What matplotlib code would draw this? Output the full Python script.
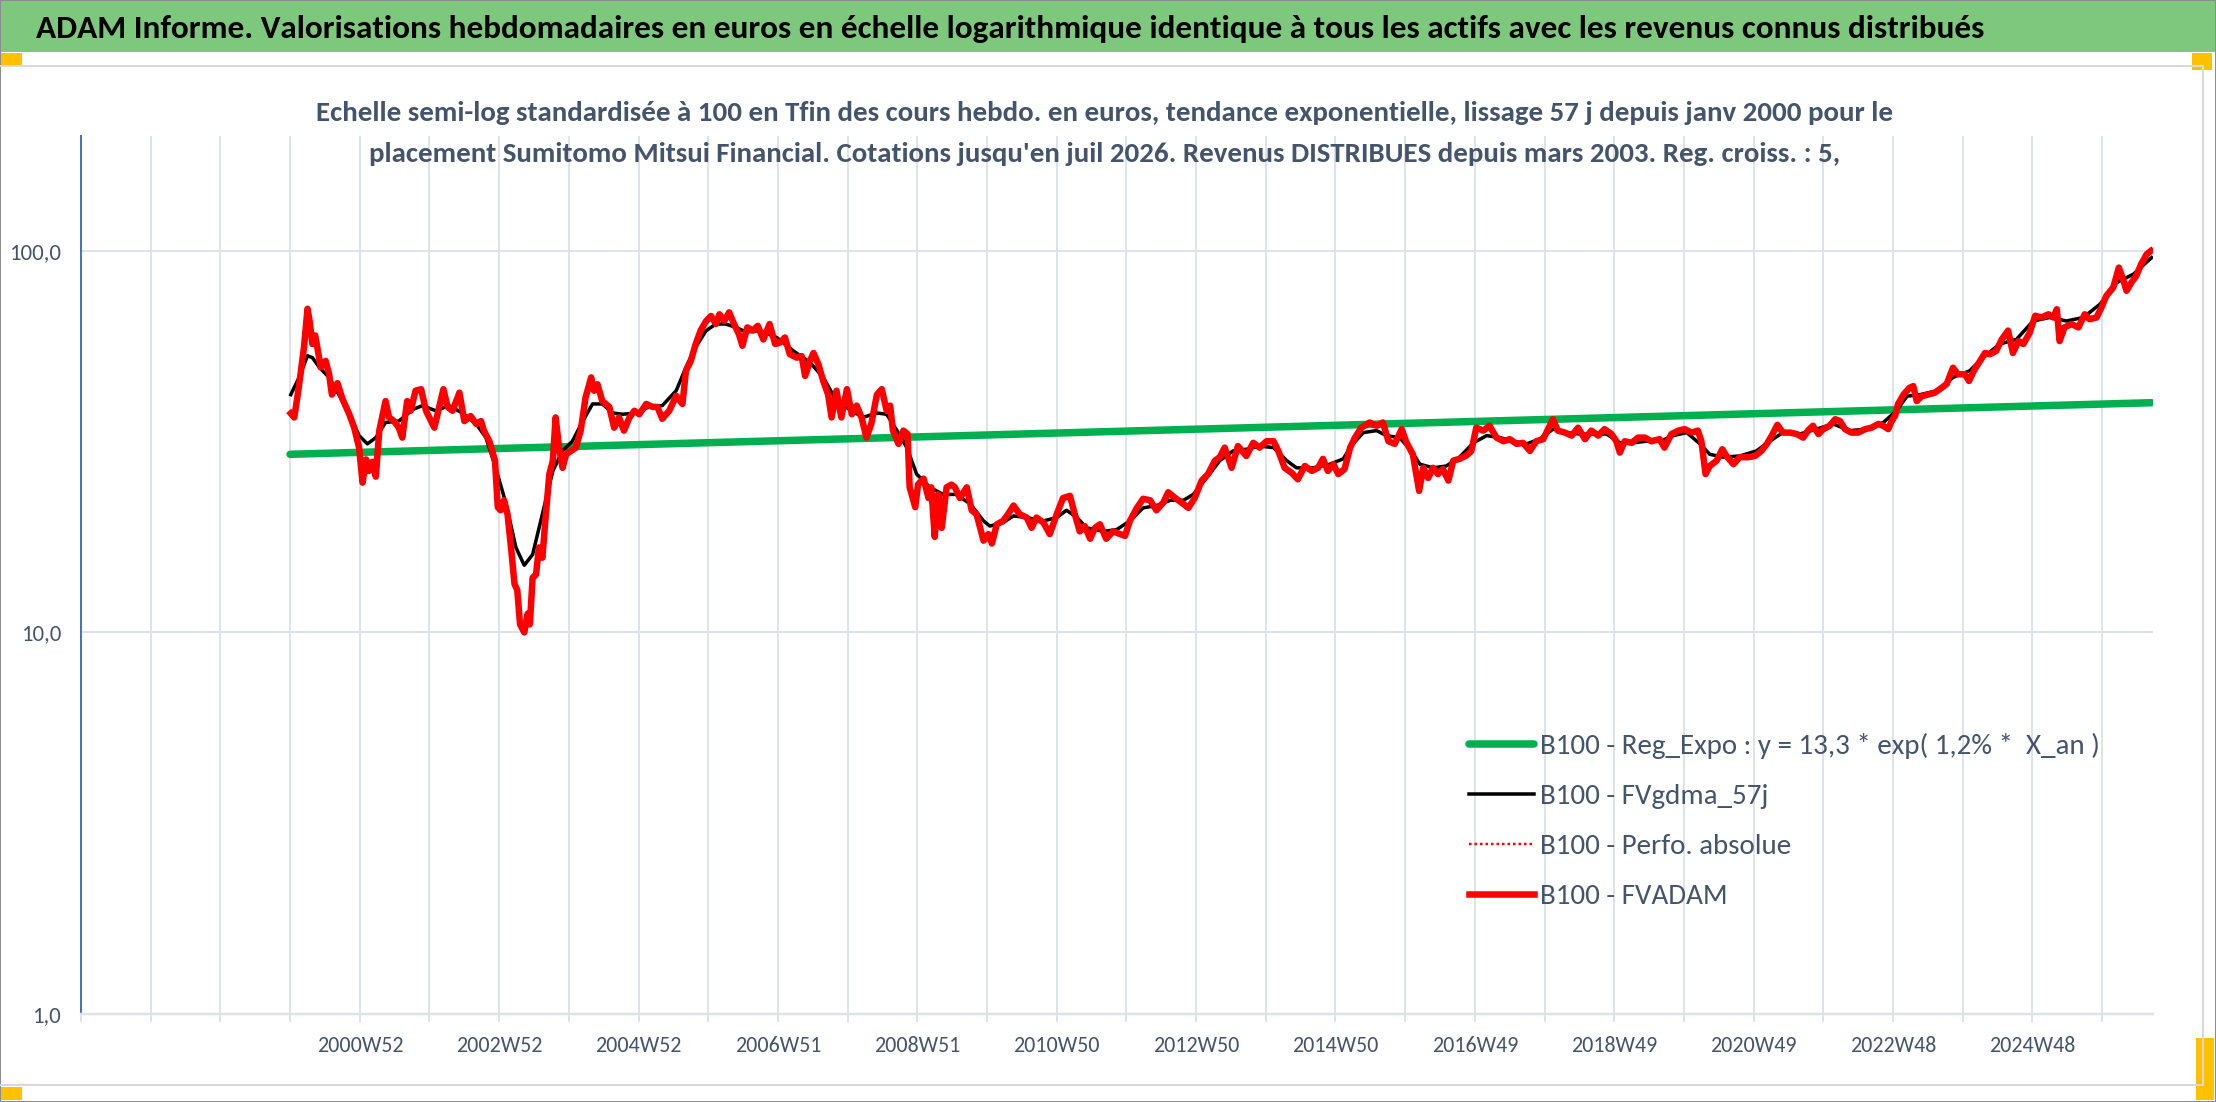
import matplotlib
matplotlib.use('Agg')
import matplotlib.pyplot as plt
from matplotlib import font_manager
from matplotlib.patches import Rectangle
from matplotlib.lines import Line2D
from matplotlib.ticker import FixedLocator, FixedFormatter, NullLocator

title = ("ADAM Informe. Valorisations hebdomadaires en euros en échelle logarithmique "
         "identique à tous les actifs avec les revenus connus distribués")
subtitle_1 = ("Echelle semi-log standardisée à 100 en Tfin des cours hebdo. en euros, tendance "
              "exponentielle, lissage 57 j depuis janv 2000 pour le")
subtitle_2 = ("placement Sumitomo Mitsui Financial. Cotations jusqu'en juil 2026. Revenus "
              "DISTRIBUES depuis mars 2003. Reg. croiss. : 5,")
legend_labels = ["B100 - Reg_Expo : y = 13,3 * exp( 1,2% *  X_an )",
                 "B100 - FVgdma_57j",
                 "B100 - Perfo. absolue",
                 "B100 - FVADAM"]

tick_years = [2001, 2003, 2005, 2007, 2009, 2011, 2013, 2015, 2017, 2019, 2021, 2023, 2025]
tick_labels = ["2000W52", "2002W52", "2004W52", "2006W51", "2008W51", "2010W50", "2012W50",
               "2014W50", "2016W49", "2018W49", "2020W49", "2022W48", "2024W48"]
grid_years = list(range(1997, 2027))
y_ticks = [1, 10, 100]
y_labels = ["1,0", "10,0", "100,0"]

reg_years = [2000.0, 2026.71]
reg_vals = [29.3, 40.0]

red_years = [
    2000.01, 2000.06, 2000.11, 2000.15, 2000.20, 2000.25, 2000.28, 2000.32, 2000.36, 2000.39,
    2000.44, 2000.51, 2000.56, 2000.60, 2000.68, 2000.75, 2000.85, 2000.92, 2000.99, 2001.04,
    2001.09, 2001.13, 2001.18, 2001.23, 2001.28, 2001.37, 2001.42, 2001.49, 2001.56, 2001.61,
    2001.68, 2001.73, 2001.80, 2001.88, 2001.95, 2002.07, 2002.14, 2002.20, 2002.26, 2002.33,
    2002.43, 2002.50, 2002.59, 2002.67, 2002.74, 2002.78, 2002.86, 2002.90, 2002.94, 2002.98,
    2003.02, 2003.07, 2003.12, 2003.17, 2003.22, 2003.26, 2003.30, 2003.36, 2003.41, 2003.44,
    2003.48, 2003.53, 2003.57, 2003.62, 2003.67, 2003.72, 2003.77, 2003.81, 2003.86, 2003.91,
    2003.96, 2004.03, 2004.10, 2004.17, 2004.24, 2004.32, 2004.36, 2004.41, 2004.48, 2004.58,
    2004.65, 2004.72, 2004.79, 2004.87, 2004.94, 2005.01, 2005.11, 2005.20, 2005.27, 2005.34,
    2005.44, 2005.54, 2005.63, 2005.68, 2005.75, 2005.82, 2005.89, 2005.97, 2006.04, 2006.11,
    2006.16, 2006.23, 2006.30, 2006.37, 2006.44, 2006.49, 2006.56, 2006.64, 2006.71, 2006.79,
    2006.88, 2006.96, 2007.03, 2007.10, 2007.17, 2007.27, 2007.34, 2007.39, 2007.46, 2007.51,
    2007.58, 2007.65, 2007.72, 2007.77, 2007.84, 2007.91, 2007.99, 2008.06, 2008.13, 2008.20,
    2008.27, 2008.34, 2008.42, 2008.49, 2008.56, 2008.61, 2008.65, 2008.73, 2008.80, 2008.86,
    2008.89, 2008.97, 2009.01, 2009.09, 2009.16, 2009.20, 2009.25, 2009.30, 2009.35, 2009.42,
    2009.49, 2009.54, 2009.61, 2009.71, 2009.78, 2009.85, 2009.95, 2010.02, 2010.07, 2010.14,
    2010.23, 2010.30, 2010.38, 2010.47, 2010.57, 2010.64, 2010.71, 2010.81, 2010.90, 2011.00,
    2011.09, 2011.19, 2011.26, 2011.33, 2011.40, 2011.48, 2011.55, 2011.62, 2011.71, 2011.81,
    2011.91, 2011.98, 2012.05, 2012.15, 2012.24, 2012.34, 2012.43, 2012.53, 2012.60, 2012.70,
    2012.79, 2012.89, 2012.98, 2013.08, 2013.17, 2013.27, 2013.34, 2013.41, 2013.51, 2013.60,
    2013.72, 2013.82, 2013.91, 2014.01, 2014.11, 2014.18, 2014.27, 2014.37, 2014.46, 2014.56,
    2014.66, 2014.75, 2014.82, 2014.89, 2014.97, 2015.04, 2015.13, 2015.21, 2015.28, 2015.37,
    2015.49, 2015.59, 2015.68, 2015.76, 2015.85, 2015.95, 2016.02, 2016.11, 2016.20, 2016.26,
    2016.33, 2016.40, 2016.47, 2016.54, 2016.62, 2016.69, 2016.78, 2016.88, 2016.95, 2017.02,
    2017.12, 2017.21, 2017.31, 2017.41, 2017.50, 2017.60, 2017.69, 2017.79, 2017.88, 2017.98,
    2018.05, 2018.12, 2018.19, 2018.29, 2018.39, 2018.48, 2018.58, 2018.67, 2018.77, 2018.86,
    2018.96, 2019.03, 2019.08, 2019.15, 2019.25, 2019.34, 2019.44, 2019.53, 2019.65, 2019.72,
    2019.82, 2019.92, 2020.01, 2020.11, 2020.20, 2020.25, 2020.31, 2020.37, 2020.47, 2020.55,
    2020.61, 2020.71, 2020.80, 2020.92, 2021.02, 2021.11, 2021.19, 2021.26, 2021.34, 2021.42,
    2021.52, 2021.62, 2021.71, 2021.78, 2021.85, 2021.93, 2022.00, 2022.09, 2022.17, 2022.24,
    2022.31, 2022.40, 2022.50, 2022.60, 2022.69, 2022.79, 2022.86, 2022.93, 2022.98, 2023.03,
    2023.07, 2023.15, 2023.24, 2023.29, 2023.34, 2023.41, 2023.50, 2023.60, 2023.70, 2023.77,
    2023.86, 2023.93, 2024.03, 2024.09, 2024.17, 2024.25, 2024.32, 2024.39, 2024.48, 2024.56,
    2024.65, 2024.72, 2024.80, 2024.87, 2024.96, 2025.04, 2025.13, 2025.23, 2025.30, 2025.35,
    2025.39, 2025.46, 2025.56, 2025.66, 2025.75, 2025.82, 2025.92, 2025.99, 2026.06, 2026.16,
    2026.24, 2026.30, 2026.35, 2026.42, 2026.49, 2026.56, 2026.64, 2026.70]
red_vals = [
    37.5, 36.6, 42.0, 47.5, 56.0, 70.5, 65.5, 57.0, 60.0, 56.0,
    49.5, 51.5, 47.5, 42.0, 45.0, 41.0, 37.3, 34.4, 30.5, 24.7,
    28.4, 26.5, 28.0, 25.6, 33.8, 40.4, 36.6, 35.8, 34.4, 32.4,
    40.4, 38.1, 43.0, 43.4, 38.1, 34.4, 39.0, 43.4, 39.0, 38.1,
    42.5, 35.8, 36.9, 35.2, 35.8, 33.8, 31.7, 29.9, 28.2, 21.3,
    20.9, 22.2, 20.4, 16.7, 13.4, 12.9, 10.5, 10.0, 11.2, 10.5,
    13.9, 14.2, 16.7, 15.7, 20.4, 26.0, 28.2, 36.6, 30.5, 27.0,
    29.3, 29.9, 30.5, 33.8, 41.3, 46.6, 43.0, 44.7, 40.4, 39.0,
    34.4, 36.6, 33.8, 36.6, 38.1, 37.3, 39.7, 39.0, 39.0, 36.3,
    38.1, 41.7, 39.7, 48.5, 51.5, 57.0, 61.8, 65.5, 67.5, 64.3,
    68.2, 65.5, 69.0, 64.3, 60.5, 56.4, 63.0, 61.8, 63.6, 58.6,
    64.3, 57.0, 57.5, 59.3, 53.6, 52.5, 53.0, 47.0, 51.5, 54.0,
    50.5, 45.6, 42.0, 36.6, 43.0, 36.6, 43.4, 37.3, 39.3, 36.6,
    32.4, 35.2, 42.0, 43.4, 38.1, 39.3, 33.8, 31.2, 33.8, 33.1,
    24.0, 21.3, 24.4, 25.3, 22.5, 24.0, 17.8, 23.0, 18.8, 24.0,
    24.4, 24.0, 22.5, 24.0, 20.9, 20.4, 17.4, 18.1, 17.1, 19.2,
    19.6, 20.4, 21.5, 20.4, 20.0, 18.8, 20.0, 19.4, 18.1, 20.4,
    22.5, 22.8, 20.4, 18.4, 19.0, 17.6, 18.8, 19.2, 17.6, 18.4,
    18.1, 17.9, 19.6, 21.2, 22.4, 22.2, 20.9, 21.9, 23.3, 22.5,
    21.9, 21.2, 22.5, 25.0, 26.0, 28.2, 28.8, 30.5, 27.0, 30.8,
    29.0, 31.4, 30.5, 31.7, 31.7, 29.9, 27.0, 26.2, 25.2, 27.3,
    26.5, 27.0, 28.5, 26.5, 27.6, 26.0, 26.8, 30.5, 32.4, 34.4,
    35.5, 34.8, 35.5, 31.7, 31.2, 34.1, 31.4, 29.3, 23.5, 27.0,
    25.4, 27.0, 26.0, 26.8, 25.0, 28.2, 28.5, 29.1, 29.9, 34.4,
    33.8, 34.8, 32.4, 31.7, 32.1, 31.2, 31.4, 29.9, 31.7, 32.1,
    34.1, 36.2, 33.8, 33.4, 32.8, 34.4, 32.1, 33.8, 32.8, 34.1,
    33.1, 31.7, 29.6, 31.7, 31.4, 32.4, 32.4, 31.7, 32.1, 30.5,
    33.1, 33.8, 34.1, 33.4, 33.8, 31.7, 26.0, 27.3, 28.2, 30.2,
    29.0, 27.6, 28.8, 28.8, 29.0, 29.9, 31.2, 32.8, 35.0, 33.4,
    33.4, 33.1, 32.4, 33.8, 34.8, 33.1, 34.1, 34.8, 36.2, 35.8,
    34.1, 33.4, 33.4, 34.1, 34.4, 35.2, 34.8, 34.1, 35.8, 37.0,
    39.6, 42.0, 43.8, 44.2, 40.4, 41.6, 42.0, 42.5, 43.8, 44.8,
    49.4, 47.5, 47.5, 45.6, 48.9, 51.5, 54.0, 53.6, 54.7, 58.6,
    61.8, 54.0, 58.0, 57.0, 61.0, 67.6, 66.9, 68.2, 66.9, 70.3,
    58.0, 63.0, 64.3, 63.0, 68.2, 66.2, 66.9, 71.0, 76.2, 80.2,
    90.4, 84.3, 78.6, 82.6, 86.0, 92.3, 98.0, 100.0]

black_years = [
    2000.01, 2000.13, 2000.25, 2000.32, 2000.42, 2000.56, 2000.70, 2000.85, 2000.99, 2001.11,
    2001.23, 2001.37, 2001.56, 2001.76, 2001.90, 2002.09, 2002.28, 2002.47, 2002.67, 2002.81,
    2002.95, 2003.10, 2003.24, 2003.36, 2003.48, 2003.62, 2003.77, 2003.91, 2004.05, 2004.20,
    2004.34, 2004.48, 2004.63, 2004.77, 2004.96, 2005.15, 2005.34, 2005.54, 2005.68, 2005.82,
    2005.97, 2006.11, 2006.25, 2006.40, 2006.54, 2006.74, 2006.98, 2007.22, 2007.46, 2007.65,
    2007.84, 2008.03, 2008.22, 2008.42, 2008.56, 2008.70, 2008.85, 2008.99, 2009.18, 2009.37,
    2009.56, 2009.76, 2009.95, 2010.04, 2010.23, 2010.38, 2010.57, 2010.81, 2011.00, 2011.14,
    2011.29, 2011.43, 2011.67, 2011.86, 2012.05, 2012.24, 2012.43, 2012.63, 2012.82, 2012.96,
    2013.15, 2013.34, 2013.53, 2013.72, 2013.91, 2014.11, 2014.30, 2014.44, 2014.68, 2014.92,
    2015.11, 2015.25, 2015.40, 2015.59, 2015.73, 2015.92, 2016.09, 2016.21, 2016.40, 2016.59,
    2016.78, 2016.98, 2017.17, 2017.36, 2017.55, 2017.74, 2017.93, 2018.12, 2018.32, 2018.51,
    2018.70, 2018.89, 2019.08, 2019.27, 2019.46, 2019.66, 2019.85, 2020.04, 2020.23, 2020.37,
    2020.56, 2020.80, 2021.04, 2021.23, 2021.42, 2021.66, 2021.90, 2022.14, 2022.38, 2022.62,
    2022.86, 2023.05, 2023.20, 2023.39, 2023.63, 2023.86, 2024.10, 2024.29, 2024.53, 2024.77,
    2025.01, 2025.25, 2025.49, 2025.73, 2025.97, 2026.21, 2026.45, 2026.71]
black_vals = [
    42.0, 46.6, 53.1, 52.5, 49.5, 46.6, 42.0, 37.3, 32.8, 31.2,
    32.4, 35.5, 35.8, 38.4, 39.3, 38.1, 39.3, 37.6, 35.2, 32.4,
    27.0, 21.7, 16.7, 15.0, 16.0, 20.4, 26.5, 29.9, 31.7, 35.8,
    39.7, 39.7, 37.6, 37.3, 37.6, 39.0, 39.3, 43.0, 49.5, 56.0,
    61.8, 64.3, 64.3, 63.0, 61.3, 61.8, 59.3, 54.7, 51.0, 46.6,
    40.4, 38.4, 36.6, 37.6, 37.3, 34.0, 30.5, 26.0, 24.0, 23.0,
    23.0, 21.7, 19.6, 19.0, 19.4, 20.2, 20.0, 19.6, 20.0, 20.9,
    20.0, 18.8, 18.4, 18.6, 19.6, 21.2, 21.5, 22.2, 22.2, 23.0,
    25.4, 28.2, 29.9, 30.2, 30.8, 30.5, 28.2, 27.0, 27.0, 27.6,
    28.5, 31.2, 33.4, 33.8, 32.8, 32.4, 29.9, 27.6, 27.0, 27.3,
    28.8, 31.4, 32.8, 32.4, 31.7, 31.2, 32.1, 34.1, 33.4, 33.1,
    33.1, 33.1, 31.4, 31.4, 31.7, 31.7, 32.8, 33.4, 31.2, 29.3,
    28.8, 29.0, 29.9, 31.7, 33.4, 33.1, 34.1, 35.2, 33.8, 34.1,
    35.5, 38.1, 41.6, 42.0, 43.0, 46.6, 48.5, 52.5, 57.0, 58.6,
    65.5, 66.9, 65.5, 66.9, 72.5, 82.6, 86.9, 96.0]

# ---- style ----
GREEN = '#00B050'
RED = '#FF0000'
SLATE = '#44546A'
GRID = '#DEE2E9'
BAND = '#7EC87E'
ORANGE = '#FFC000'


def pick_font(names):
    for n in names:
        try:
            font_manager.findfont(font_manager.FontProperties(family=n), fallback_to_default=False)
            return n
        except Exception:
            pass
    return 'DejaVu Sans'


FONT = pick_font(['Carlito', 'Lato', 'Open Sans'])
plt.rcParams['font.family'] = [FONT, 'DejaVu Sans']

W, H = 2216, 1102
fig = plt.figure(figsize=(W / 100, H / 100), dpi=100)
fig.patch.set_facecolor('white')
renderer = fig.canvas.get_renderer()


def fx(px):
    return px / W


def fy(py):
    return 1 - py / H


def size_for(s, target_px, weight='normal'):
    t = fig.text(0, 0, s, fontsize=20, fontweight=weight)
    w = t.get_window_extent(renderer=renderer).width
    t.remove()
    return 20 * target_px / w


PX = 0.72  # points per pixel at dpi 100

# frame decorations
fig.add_artist(Rectangle((0, fy(52)), 1, 52 / H, transform=fig.transFigure,
                         facecolor=BAND, edgecolor='none', zorder=0))
for seg in [((0, 2203), (66, 66)), ((2203, 2203), (66, 1085)), ((0, 2203), (1085, 1085))]:
    fig.add_artist(Line2D([fx(v) for v in seg[0]], [fy(v) for v in seg[1]],
                          transform=fig.transFigure, color='#D9D9D9', lw=2 * PX))
for (x0, y0, x1, y1) in [(0, 53, 22, 66), (2192, 53, 2212, 70), (0, 1087, 22, 1100), (2196, 1038, 2214, 1100)]:
    fig.add_artist(Rectangle((fx(x0), fy(y1)), (x1 - x0) / W, (y1 - y0) / H,
                             transform=fig.transFigure, facecolor=ORANGE, edgecolor='none'))
fig.add_artist(Rectangle((0, 0), 1, 1, transform=fig.transFigure, fill=False,
                         edgecolor='#8C8C8C', lw=2 * PX))

fig.text(fx(36), fy(38), title, fontsize=size_for(title, 1950, 'bold'), fontweight='bold',
         color='black', va='baseline', ha='left')
sub_size = size_for(subtitle_1, 1580, 'bold')
fig.text(fx(1105), fy(121), subtitle_1, fontsize=sub_size, fontweight='bold', color=SLATE,
         va='baseline', ha='center')
fig.text(fx(1105), fy(162), subtitle_2, fontsize=sub_size, fontweight='bold', color=SLATE,
         va='baseline', ha='center')

# ---- axes ----
ax = fig.add_axes([fx(81), fy(1014), fx(2153) - fx(81), fy(136) - fy(1014)])
ax.set_yscale('log')
ax.set_ylim(1, 200)
ax.set_xlim(1997, 2026.73)

l_reg, = ax.plot(reg_years, reg_vals, color=GREEN, lw=7.5 * PX, solid_capstyle='round', zorder=3)
l_blk, = ax.plot(black_years, black_vals, color='black', lw=3.5 * PX, zorder=4)
l_dot, = ax.plot(red_years, red_vals, color=RED, lw=2.5 * PX, ls=(0, (1, 1.2)), zorder=4)
l_red, = ax.plot(red_years, red_vals, color=RED, lw=6.5 * PX, solid_joinstyle='round', zorder=5)

ax.xaxis.set_major_locator(FixedLocator(tick_years))
ax.xaxis.set_major_formatter(FixedFormatter(tick_labels))
ax.xaxis.set_minor_locator(FixedLocator([g for g in grid_years if g not in tick_years]))
ax.yaxis.set_major_locator(FixedLocator(y_ticks))
ax.yaxis.set_major_formatter(FixedFormatter(y_labels))
ax.yaxis.set_minor_locator(NullLocator())

ax.grid(True, axis='x', which='both', color=GRID, lw=2 * PX, zorder=0)
ax.grid(True, axis='y', which='major', color=GRID, lw=2 * PX, zorder=0)
ax.set_axisbelow(True)

xt_size = size_for(tick_labels[0], 86)
yt_size = size_for(y_labels[2], 52)
ax.tick_params(axis='x', which='both', length=8 * PX, width=2 * PX, color=GRID,
               labelsize=xt_size, labelcolor=SLATE, pad=14 * PX)
ax.tick_params(axis='y', which='both', length=0, labelsize=yt_size, labelcolor=SLATE, pad=19 * PX)

for s in ['top', 'right']:
    ax.spines[s].set_visible(False)
ax.spines['left'].set_color('#4472C4')
ax.spines['left'].set_linewidth(2 * PX)
ax.spines['bottom'].set_color(GRID)
ax.spines['bottom'].set_linewidth(2.5 * PX)

leg_size = size_for(legend_labels[0], 560)
leg_px = leg_size / PX
leg = ax.legend([l_reg, l_blk, l_dot, l_red], legend_labels, loc='upper left',
                bbox_to_anchor=(fx(1469), fy(733)), bbox_transform=fig.transFigure,
                frameon=False, fontsize=leg_size, handlelength=65 / leg_px,
                handletextpad=6 / leg_px, labelspacing=0.3 + 16 / leg_px, borderpad=0,
                borderaxespad=0)
for t in leg.get_texts():
    t.set_color(SLATE)

fig.savefig('out.png', dpi=100, facecolor='white')
